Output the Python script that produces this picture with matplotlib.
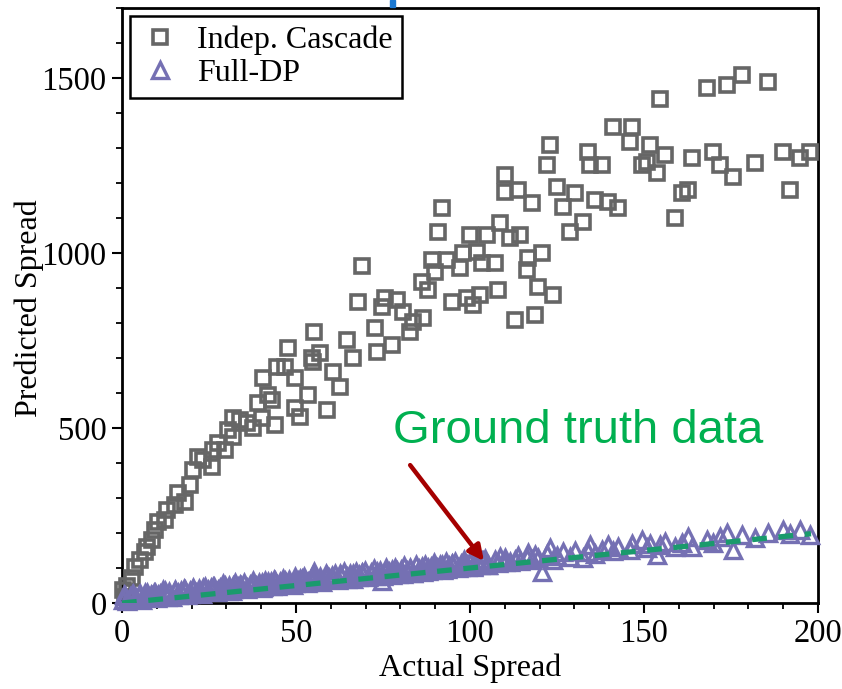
import matplotlib
matplotlib.use("Agg")
import matplotlib.pyplot as plt
from matplotlib.ticker import MultipleLocator
from matplotlib.patches import Rectangle

# ---------------- data ----------------
actual_spread = [0.3, 0.9, 1.5, 2.9, 3.7, 5.2, 6.6, 7.2, 8.6, 9.5, 10.3, 12.4, 12.9, 15.2, 16.1,
                 18.1, 19.5, 20.4, 21.8, 23.3, 25.9, 26.1, 27.6, 29.6, 30.5, 31.9, 31.9, 33.9,
                 35.9, 37.6, 39.1, 40.2, 40.5, 42.0, 43.1, 43.9, 44.5, 46.8, 47.7, 49.7, 49.7,
                 51.1, 53.4, 54.6, 54.9, 55.2, 56.9, 58.9, 60.6, 62.6, 64.7, 66.4, 67.8, 69.0,
                 72.7, 73.3, 74.7, 75.6, 77.6, 79.0, 80.7, 82.8, 83.6, 86.2, 86.5, 87.9, 89.1,
                 89.9, 90.8, 92.0, 93.4, 94.8, 97.1, 98.0, 99.1, 100.0, 100.9, 102.0, 102.9,
                 103.4, 104.9, 107.2, 108.0, 108.6, 110.1, 110.1, 111.5, 112.9, 113.8, 114.4,
                 116.4, 116.7, 117.8, 118.7, 119.5, 120.7, 122.1, 123.0, 123.9, 125.0, 126.7,
                 128.7, 130.2, 132.5, 133.9, 134.5, 135.9, 137.9, 139.7, 141.1, 142.5, 146.0,
                 146.6, 149.4, 150.9, 151.7, 153.7, 154.6, 156.0, 158.9, 160.9, 162.6, 163.8,
                 168.1, 169.8, 171.8, 173.9, 175.6, 178.2, 181.9, 185.6, 189.9, 192.0, 194.8,
                 197.7]

indep_cascade = [37, 17, 50, 71, 103, 123, 146, 160, 180, 209, 231, 237, 266, 280, 314,
                 289, 337, 380, 417, 409, 389, 437, 457, 437, 494, 474, 529, 523,
                 514, 500, 571, 529, 643, 594, 580, 509, 674, 674, 729, 643, 557,
                 531, 594, 700, 689, 774, 714, 551, 660, 617, 751, 700, 860, 963,
                 786, 717, 846, 871, 737, 866, 831, 774, 803, 917, 814, 894, 980,
                 946, 1060, 1129, 980, 860, 957, 1000, 871, 1051, 851, 1003, 880,
                 971, 1051, 971, 894, 1086, 1174, 1223, 1043, 809, 1180, 1051,
                 951, 986, 1143, 823, 903, 1000, 1251, 1309, 880, 1189, 1131,
                 1060, 1171, 1089, 1289, 1251, 1151, 1251, 1146, 1360, 1129, 1317,
                 1360, 1251, 1260, 1309, 1229, 1440, 1280, 1100, 1171, 1180, 1271,
                 1471, 1289, 1251, 1480, 1217, 1509, 1257, 1489, 1289, 1180, 1271,
                 1289]

full_dp = [10, 20, 8, 22, 15, 25, 18, 28, 20, 30, 22, 33, 18, 35, 24,
           38, 27, 40, 30, 42, 33, 45, 36, 48, 35, 50, 40, 52,
           42, 55, 45, 58, 47, 60, 50, 62, 52, 64, 55, 67, 57,
           70, 60, 72, 62, 88, 65, 78, 68, 82, 70, 84, 74, 86,
           78, 88, 62, 90, 80, 92, 84, 96, 86, 98, 90, 100, 94,
           104, 96, 108, 98, 112, 102, 114, 104, 116, 106, 118, 108,
           120, 110, 124, 114, 131, 116, 128, 118, 123, 134, 120,
           130, 143, 122, 136, 128, 89, 140, 157, 123, 135, 146,
           132, 150, 129, 145, 166, 140, 152, 166, 148, 160, 151,
           170, 180, 158, 170, 137, 166, 175, 160, 172, 189, 160,
           180, 172, 190, 200, 151, 194, 185, 200, 209, 196, 209,
           194]

# additional Full-DP points in the dense low-spread band
full_dp_extra_x = [0.5, 1.4, 2.2, 3.1, 4.0, 4.8, 5.7, 6.5, 7.4, 8.3, 9.1, 10.0, 10.9, 11.7,
                   12.6, 13.5, 14.3, 15.2, 16.0, 16.9, 17.8, 18.6, 19.5, 20.4, 21.2, 22.1,
                   23.0, 23.8, 24.7, 25.6, 26.4, 27.3, 28.2, 29.0, 29.9, 30.8, 31.6, 32.5,
                   33.4, 34.2, 35.1, 36.0, 36.8, 37.7, 38.6, 39.4, 40.3, 41.2, 42.0, 42.9,
                   43.8, 44.6, 45.5, 46.4, 47.2, 48.1, 49.0, 49.8, 50.7, 51.6, 52.4, 53.3,
                   54.2, 55.0, 55.9, 56.8, 57.6, 58.5, 59.4, 60.2, 61.1, 62.0, 62.8, 63.7,
                   64.6, 65.4, 66.3, 67.2, 68.0, 68.9, 69.8, 70.6, 71.5, 72.4, 73.2, 74.1,
                   75.0, 75.8, 76.7, 77.6, 78.4, 79.3, 80.2, 81.0, 81.9, 82.8, 83.6, 84.5,
                   85.4, 86.2, 87.1, 88.0, 88.8, 89.7, 90.6, 91.4, 92.3, 93.2, 94.0, 94.9,
                   95.8, 96.6, 97.5, 98.4, 99.2, 100.1, 101.0, 101.8, 102.7, 103.6, 104.4,
                   105.3]
full_dp_extra_y = [22, 5, 16, 27, 13, 23, 8, 30, 19, 24, 30, 14, 25, 36,
                   22, 32, 16, 38, 28, 33, 39, 23, 34, 44, 30, 40,
                   25, 47, 37, 42, 47, 31, 42, 53, 39, 49, 34, 56,
                   45, 50, 56, 40, 51, 62, 48, 57, 42, 64, 54, 59,
                   65, 49, 60, 70, 56, 66, 51, 73, 63, 68, 73, 57,
                   68, 79, 65, 75, 60, 82, 71, 76, 82, 66, 77, 88,
                   74, 83, 68, 90, 80, 85, 91, 75, 86, 96, 82, 92,
                   77, 99, 89, 94, 99, 83, 94, 105, 91, 101, 86, 108,
                   97, 102, 108, 92, 103, 114, 100, 109, 94, 116, 106, 111,
                   117, 101, 112, 122, 108, 118, 103, 125, 115, 120, 125,
                   109]

ground_truth_x = [0, 198]
ground_truth_y = [0, 198]

series_labels = ["Indep. Cascade", "Full-DP"]
x_ticks = [0, 50, 100, 150, 200]
y_ticks = [0, 500, 1000, 1500]
annotation_text = "Ground truth data"

# ---------------- figure ----------------
serif = ["Liberation Serif", "DejaVu Serif"]
plt.rcParams["font.family"] = serif

fig = plt.figure(figsize=(8.42, 6.89), dpi=100)
ax = fig.add_axes([0.1449, 0.1248, 0.8266, 0.8636])

ax.plot(actual_spread, indep_cascade, linestyle="none", marker="s", markersize=10.5,
        markerfacecolor="none", markeredgecolor="#666666", markeredgewidth=2.6,
        label=series_labels[0], clip_on=False, zorder=3)
ax.plot(list(actual_spread) + list(full_dp_extra_x), list(full_dp) + list(full_dp_extra_y),
        linestyle="none", marker="^", markersize=11,
        markerfacecolor="none", markeredgecolor="#7570b3", markeredgewidth=2.4,
        label=series_labels[1], clip_on=False, zorder=4)
ax.plot(ground_truth_x, ground_truth_y, linestyle=(0, (2.8, 2.2)), color="#1a9a6c",
        linewidth=3.8, zorder=5)

ax.set_xlim(0, 200)
ax.set_ylim(0, 1700)
ax.set_xticks(x_ticks)
ax.set_yticks(y_ticks)
ax.xaxis.set_minor_locator(MultipleLocator(10))
ax.yaxis.set_minor_locator(MultipleLocator(100))
ax.tick_params(which="major", direction="out", length=7, width=1.5, labelsize=23.5,
               pad=4, top=False, right=False)
ax.tick_params(which="minor", direction="out", length=4.5, width=1.3, top=False, right=False)
for s in ax.spines.values():
    s.set_linewidth(2.0)

ax.set_xlabel("Actual Spread", fontsize=23)
ax.set_ylabel("Predicted Spread", fontsize=23)
ax.xaxis.set_label_coords(0.5, -0.085)
ax.yaxis.set_label_coords(-0.112, 0.496)

leg = ax.legend(loc="upper left", fontsize=23, frameon=True, fancybox=False,
                edgecolor="black", framealpha=1, borderaxespad=0.25, handletextpad=0.5,
                handlelength=1.3, borderpad=0.3, labelspacing=0.12)
leg.get_frame().set_linewidth(1.8)

ax.annotate("", xy=(104, 120), xytext=(82.8, 394),
            arrowprops=dict(arrowstyle="-|>,head_length=0.9,head_width=0.45",
                            color="#a50000", lw=3.2, shrinkA=0, shrinkB=0), zorder=6)
ax.text(77.9, 457, annotation_text, fontsize=34, color="#00b050",
        family=["Liberation Sans", "DejaVu Sans"], ha="left", va="baseline", zorder=6)

# small blue mark above the frame (present in the reference)
fig.patches.append(Rectangle((390 / 842, 1 - 7 / 689), 5 / 842, 7 / 689,
                             transform=fig.transFigure, color="#1a78d2", zorder=10))

fig.savefig("out.png", dpi=100)
